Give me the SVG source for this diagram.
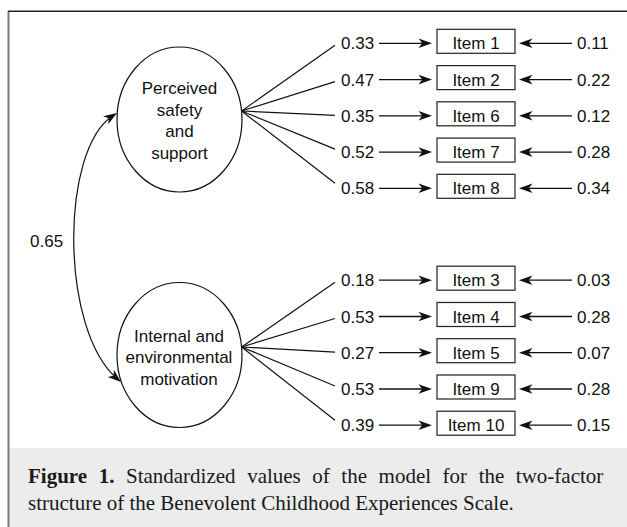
<svg xmlns="http://www.w3.org/2000/svg" width="627" height="527" viewBox="0 0 627 527">
  <style>
    .lbl { font-family: "Liberation Sans", Arial, sans-serif; font-size: 17px; fill: #111; }
    .mid { text-anchor: middle; }
    .line { stroke: #111; stroke-width: 1.2; fill: none; }
    .arr { stroke: #111; stroke-width: 1.3; fill: none; marker-end: url(#head); }
    .box { fill: #fff; stroke: #222; stroke-width: 1.2; }
    .latent { fill: #fff; stroke: #111; stroke-width: 1.2; }
    .cap { font-family: "Liberation Serif", "Times New Roman", serif; font-size: 21px; fill: #1a1a1a; }
  </style>
  <defs>
    <marker id="head" markerUnits="userSpaceOnUse" viewBox="-10 -6 17 12" refX="0" refY="0" markerWidth="17" markerHeight="12" orient="auto-start-reverse">
      <path d="M5,0 L-8.5,-4.8 L-4.8,0 L-8.5,4.8 Z" fill="#111"/>
    </marker>
  </defs>

  <!-- frame and caption panel -->
  <rect x="9" y="448" width="618" height="79" fill="#ececec"/>
  <line x1="8.5" y1="11" x2="8.5" y2="527" stroke="#7a7a7a" stroke-width="2"/>
  <line x1="8" y1="11.3" x2="627" y2="11.3" stroke="#222" stroke-width="1.4"/>

  <!-- connectors -->
  <g id="connectors">
    <!-- factor covariance -->
    <path class="line" d="M112.8,115.7 C60,150 60,330 117.2,378.8" marker-start="url(#head)" marker-end="url(#head)"/>
    <!-- loadings, factor 1 -->
    <line class="line" x1="241.6" y1="111" x2="335" y2="45.3"/>
    <line class="line" x1="241.6" y1="111" x2="335" y2="81.6"/>
    <line class="line" x1="241.6" y1="111" x2="335" y2="115.3"/>
    <line class="line" x1="241.6" y1="111" x2="335" y2="149.1"/>
    <line class="line" x1="241.6" y1="111" x2="335" y2="183.3"/>
    <!-- loadings, factor 2 -->
    <line class="line" x1="241.6" y1="347" x2="335" y2="282.2"/>
    <line class="line" x1="241.6" y1="347" x2="335" y2="318.5"/>
    <line class="line" x1="241.6" y1="347" x2="335" y2="352.2"/>
    <line class="line" x1="241.6" y1="347" x2="335" y2="386"/>
    <line class="line" x1="241.6" y1="347" x2="335" y2="420.2"/>
    <!-- loading arrows into items -->
    <line class="arr" x1="379" y1="43.3" x2="427" y2="43.3"/>
    <line class="arr" x1="379" y1="79.6" x2="427" y2="79.6"/>
    <line class="arr" x1="379" y1="115.8" x2="427" y2="115.8"/>
    <line class="arr" x1="379" y1="152.1" x2="427" y2="152.1"/>
    <line class="arr" x1="379" y1="188.3" x2="427" y2="188.3"/>
    <line class="arr" x1="379" y1="280.2" x2="427" y2="280.2"/>
    <line class="arr" x1="379" y1="316.5" x2="427" y2="316.5"/>
    <line class="arr" x1="379" y1="352.7" x2="427" y2="352.7"/>
    <line class="arr" x1="379" y1="389" x2="427" y2="389"/>
    <line class="arr" x1="379" y1="425.2" x2="427" y2="425.2"/>
    <!-- error arrows into items -->
    <line class="arr" x1="572" y1="43.3" x2="524" y2="43.3"/>
    <line class="arr" x1="572" y1="79.6" x2="524" y2="79.6"/>
    <line class="arr" x1="572" y1="115.8" x2="524" y2="115.8"/>
    <line class="arr" x1="572" y1="152.1" x2="524" y2="152.1"/>
    <line class="arr" x1="572" y1="188.3" x2="524" y2="188.3"/>
    <line class="arr" x1="572" y1="280.2" x2="524" y2="280.2"/>
    <line class="arr" x1="572" y1="316.5" x2="524" y2="316.5"/>
    <line class="arr" x1="572" y1="352.7" x2="524" y2="352.7"/>
    <line class="arr" x1="572" y1="389" x2="524" y2="389"/>
    <line class="arr" x1="572" y1="425.2" x2="524" y2="425.2"/>
  </g>

  <text class="lbl" x="30" y="247">0.65</text>

  <!-- latent factors -->
  <g id="factor-safety">
    <ellipse class="latent" cx="179.5" cy="119.5" rx="62.5" ry="72.5"/>
    <text class="lbl mid" x="179.5" y="94">Perceived</text>
    <text class="lbl mid" x="179.5" y="115.7">safety</text>
    <text class="lbl mid" x="179.5" y="137.4">and</text>
    <text class="lbl mid" x="179.5" y="159">support</text>
  </g>
  <g id="factor-motivation">
    <ellipse class="latent" cx="179.5" cy="355" rx="62.5" ry="72.5"/>
    <text class="lbl mid" x="179" y="341.7">Internal and</text>
    <text class="lbl mid" x="179" y="363.3">environmental</text>
    <text class="lbl mid" x="179" y="385">motivation</text>
  </g>

  <!-- observed items with loading (left) and error (right) values -->
  <g id="item-1">
    <rect class="box" x="437" y="29.3" width="78" height="24"/>
    <text class="lbl mid" x="476" y="49.3">Item 1</text>
    <text class="lbl" x="341" y="49.3">0.33</text>
    <text class="lbl" x="577" y="49.3">0.11</text>
  </g>
  <g id="item-2">
    <rect class="box" x="437" y="65.6" width="78" height="24"/>
    <text class="lbl mid" x="476" y="85.6">Item 2</text>
    <text class="lbl" x="341" y="85.6">0.47</text>
    <text class="lbl" x="577" y="85.6">0.22</text>
  </g>
  <g id="item-6">
    <rect class="box" x="437" y="101.8" width="78" height="24"/>
    <text class="lbl mid" x="476" y="121.8">Item 6</text>
    <text class="lbl" x="341" y="121.8">0.35</text>
    <text class="lbl" x="577" y="121.8">0.12</text>
  </g>
  <g id="item-7">
    <rect class="box" x="437" y="138.1" width="78" height="24"/>
    <text class="lbl mid" x="476" y="158.1">Item 7</text>
    <text class="lbl" x="341" y="158.1">0.52</text>
    <text class="lbl" x="577" y="158.1">0.28</text>
  </g>
  <g id="item-8">
    <rect class="box" x="437" y="174.3" width="78" height="24"/>
    <text class="lbl mid" x="476" y="194.3">Item 8</text>
    <text class="lbl" x="341" y="194.3">0.58</text>
    <text class="lbl" x="577" y="194.3">0.34</text>
  </g>
  <g id="item-3">
    <rect class="box" x="437" y="266.2" width="78" height="24"/>
    <text class="lbl mid" x="476" y="286.2">Item 3</text>
    <text class="lbl" x="341" y="286.2">0.18</text>
    <text class="lbl" x="577" y="286.2">0.03</text>
  </g>
  <g id="item-4">
    <rect class="box" x="437" y="302.5" width="78" height="24"/>
    <text class="lbl mid" x="476" y="322.5">Item 4</text>
    <text class="lbl" x="341" y="322.5">0.53</text>
    <text class="lbl" x="577" y="322.5">0.28</text>
  </g>
  <g id="item-5">
    <rect class="box" x="437" y="338.7" width="78" height="24"/>
    <text class="lbl mid" x="476" y="358.7">Item 5</text>
    <text class="lbl" x="341" y="358.7">0.27</text>
    <text class="lbl" x="577" y="358.7">0.07</text>
  </g>
  <g id="item-9">
    <rect class="box" x="437" y="375" width="78" height="24"/>
    <text class="lbl mid" x="476" y="395">Item 9</text>
    <text class="lbl" x="341" y="395">0.53</text>
    <text class="lbl" x="577" y="395">0.28</text>
  </g>
  <g id="item-10">
    <rect class="box" x="437" y="411.2" width="78" height="24"/>
    <text class="lbl mid" x="476" y="431.2">Item 10</text>
    <text class="lbl" x="341" y="431.2">0.39</text>
    <text class="lbl" x="577" y="431.2">0.15</text>
  </g>

  <!-- caption -->
  <text class="cap" x="28" y="483" word-spacing="6.3"><tspan font-weight="bold">Figure 1.</tspan> Standardized values of the model for the two-factor</text>
  <text class="cap" x="28" y="510">structure of the Benevolent Childhood Experiences Scale.</text>
</svg>
